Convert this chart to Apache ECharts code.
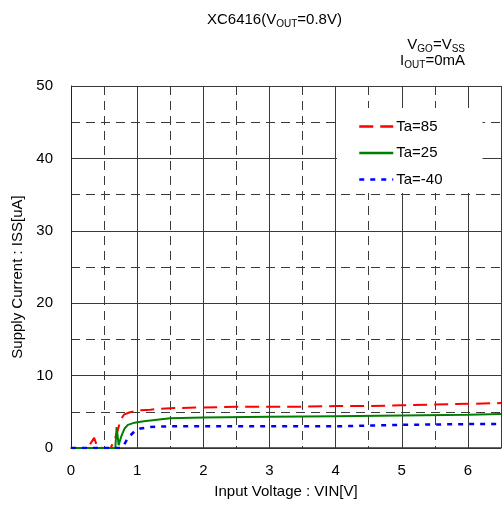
<!DOCTYPE html>
<html>
<head>
<meta charset="utf-8">
<script src="https://cdn.jsdelivr.net/npm/echarts@6/dist/echarts.min.js"></script>
<style>
html,body{margin:0;padding:0;background:#fff;}
#chart{width:504px;height:506px;}
</style>
</head>
<body>
<div id="chart"></div>
<script>
// Data
var seriesNames = ['Ta=85', 'Ta=25', 'Ta=-40'];
var xTa85 = [0, 0.25, 0.28, 0.35, 0.4, 0.5, 0.6, 0.63, 0.7, 0.75, 0.8, 0.88, 1.0, 1.2, 1.5, 2, 2.5, 3, 3.5, 4, 4.5, 5, 5.5, 6, 6.5];
var yTa85 = [0, 0, 0.4, 1.4, 0.1, 0, 0, 0.6, 2.2, 3.9, 4.6, 4.9, 5.2, 5.3, 5.5, 5.6, 5.7, 5.7, 5.7, 5.8, 5.8, 5.9, 6.0, 6.1, 6.2];
var xTa25 = [0, 0.67, 0.69, 0.72, 0.76, 0.81, 0.86, 0.96, 1.1, 1.5, 2, 3, 4, 5, 6, 6.5];
var yTa25 = [0, 0, 2.9, 0.4, 1.6, 2.7, 3.2, 3.5, 3.7, 4.1, 4.2, 4.3, 4.4, 4.5, 4.6, 4.7];
var xTaM40 = [0, 0.75, 0.8, 0.86, 0.96, 1.05, 1.2, 1.5, 2, 3, 4, 4.5, 5, 6, 6.5];
var yTaM40 = [0, 0, 0.4, 1.4, 2.3, 2.7, 2.9, 3.0, 3.0, 3.0, 3.0, 3.1, 3.2, 3.3, 3.3];
var xTickLabels = ['0', '1', '2', '3', '4', '5', '6'];
var yTickLabels = ['0', '10', '20', '30', '40', '50'];

function pairs(xs, ys) { return xs.map(function (x, i) { return [x, ys[i]]; }); }

var FONT = 'Liberation Sans, Arial, sans-serif';
var gridColor = '#3a3a3a';
var richSub = {
  n: {fontSize: 15, color: '#000', fontFamily: FONT, fontWeight: 'normal', lineHeight: 18},
  s: {fontSize: 10, color: '#000', fontFamily: FONT, fontWeight: 'normal', lineHeight: 18, padding: [8, 0, 0, 0]}
};
var chart = echarts.init(document.getElementById('chart'), null, {renderer: 'canvas'});
chart.setOption({
  animation: false,
  backgroundColor: '#fff',
  textStyle: {fontFamily: FONT},
  title: [
    {text: '{n|XC6416(V}{s|OUT}{n|=0.8V)}', left: 207, top: 11, padding: 0,
     textStyle: {fontWeight: 'normal', rich: richSub}},
    {text: '{n|V}{s|GO}{n|=V}{s|SS}', right: 39, top: 36, padding: 0,
     textStyle: {fontWeight: 'normal', rich: richSub}},
    {text: '{n|I}{s|OUT}{n|=0mA}', right: 39, top: 52, padding: 0,
     textStyle: {fontWeight: 'normal', rich: richSub}}
  ],
  legend: {
    data: seriesNames,
    orient: 'vertical',
    left: 337, top: 108,
    backgroundColor: '#fff',
    padding: [11, 40, 6, 21],
    itemWidth: 34, itemHeight: 14, itemGap: 11.5,
    itemStyle: {opacity: 0},
    lineStyle: {width: 2.5},
    textStyle: {fontSize: 15, color: '#000', fontFamily: FONT, padding: [0, 0, 0, -2]}
  },
  grid: {left: 71, right: -2, top: 86, bottom: 58, containLabel: false},
  xAxis: [
    {
      type: 'value', min: 0, max: 6.5, interval: 0.5,
      name: 'Input Voltage : VIN[V]', nameLocation: 'middle', nameGap: 36,
      nameTextStyle: {fontSize: 15, color: '#000', fontFamily: FONT},
      axisLine: {show: true, lineStyle: {color: '#333', width: 1.5}},
      axisTick: {show: false},
      axisLabel: {
        fontSize: 15, color: '#000', margin: 15, fontFamily: FONT,
        formatter: function (v) { var s = String(v); return xTickLabels.indexOf(s) >= 0 ? s : ''; }
      },
      splitLine: {show: true, lineStyle: {color: gridColor, width: 1, type: [9, 6]}}
    },
    {
      type: 'value', min: 0, max: 6.5, interval: 1, position: 'bottom',
      axisLine: {show: false}, axisTick: {show: false}, axisLabel: {show: false},
      splitLine: {show: true, lineStyle: {color: gridColor, width: 1, type: 'solid'}}
    }
  ],
  yAxis: [
    {
      type: 'value', min: 0, max: 50, interval: 5,
      axisLine: {show: true, lineStyle: {color: '#222', width: 1}},
      axisTick: {show: false},
      axisLabel: {
        fontSize: 15, color: '#000', margin: 18, fontFamily: FONT,
        formatter: function (v) { var s = String(v); return yTickLabels.indexOf(s) >= 0 ? s : ''; }
      },
      name: 'Supply Current : ISS[uA]', nameLocation: 'middle', nameGap: 46, nameRotate: 90,
      nameTextStyle: {fontSize: 15, color: '#000', fontFamily: FONT, padding: [0, 20, 0, 0]},
      splitLine: {show: true, lineStyle: {color: gridColor, width: 1, type: [9, 6]}}
    },
    {
      type: 'value', min: 0, max: 50, interval: 10, position: 'left',
      axisLine: {show: false}, axisTick: {show: false}, axisLabel: {show: false},
      splitLine: {show: true, lineStyle: {color: gridColor, width: 1, type: 'solid'}}
    }
  ],
  series: [
    {
      name: seriesNames[0], type: 'line', symbol: 'none', xAxisIndex: 0, yAxisIndex: 0,
      data: pairs(xTa85, yTa85), z: 3,
      lineStyle: {color: '#ff0000', width: 2, type: [14, 7]}, itemStyle: {color: '#ff0000'}
    },
    {
      name: seriesNames[1], type: 'line', symbol: 'none', xAxisIndex: 0, yAxisIndex: 0,
      data: pairs(xTa25, yTa25), z: 4,
      lineStyle: {color: '#008000', width: 2, type: 'solid'}, itemStyle: {color: '#008000'}
    },
    {
      name: seriesNames[2], type: 'line', symbol: 'none', xAxisIndex: 0, yAxisIndex: 0,
      data: pairs(xTaM40, yTaM40), z: 5,
      lineStyle: {color: '#0000ff', width: 2.5, type: [5, 6]}, itemStyle: {color: '#0000ff'}
    }
  ]
});
</script>
</body>
</html>
